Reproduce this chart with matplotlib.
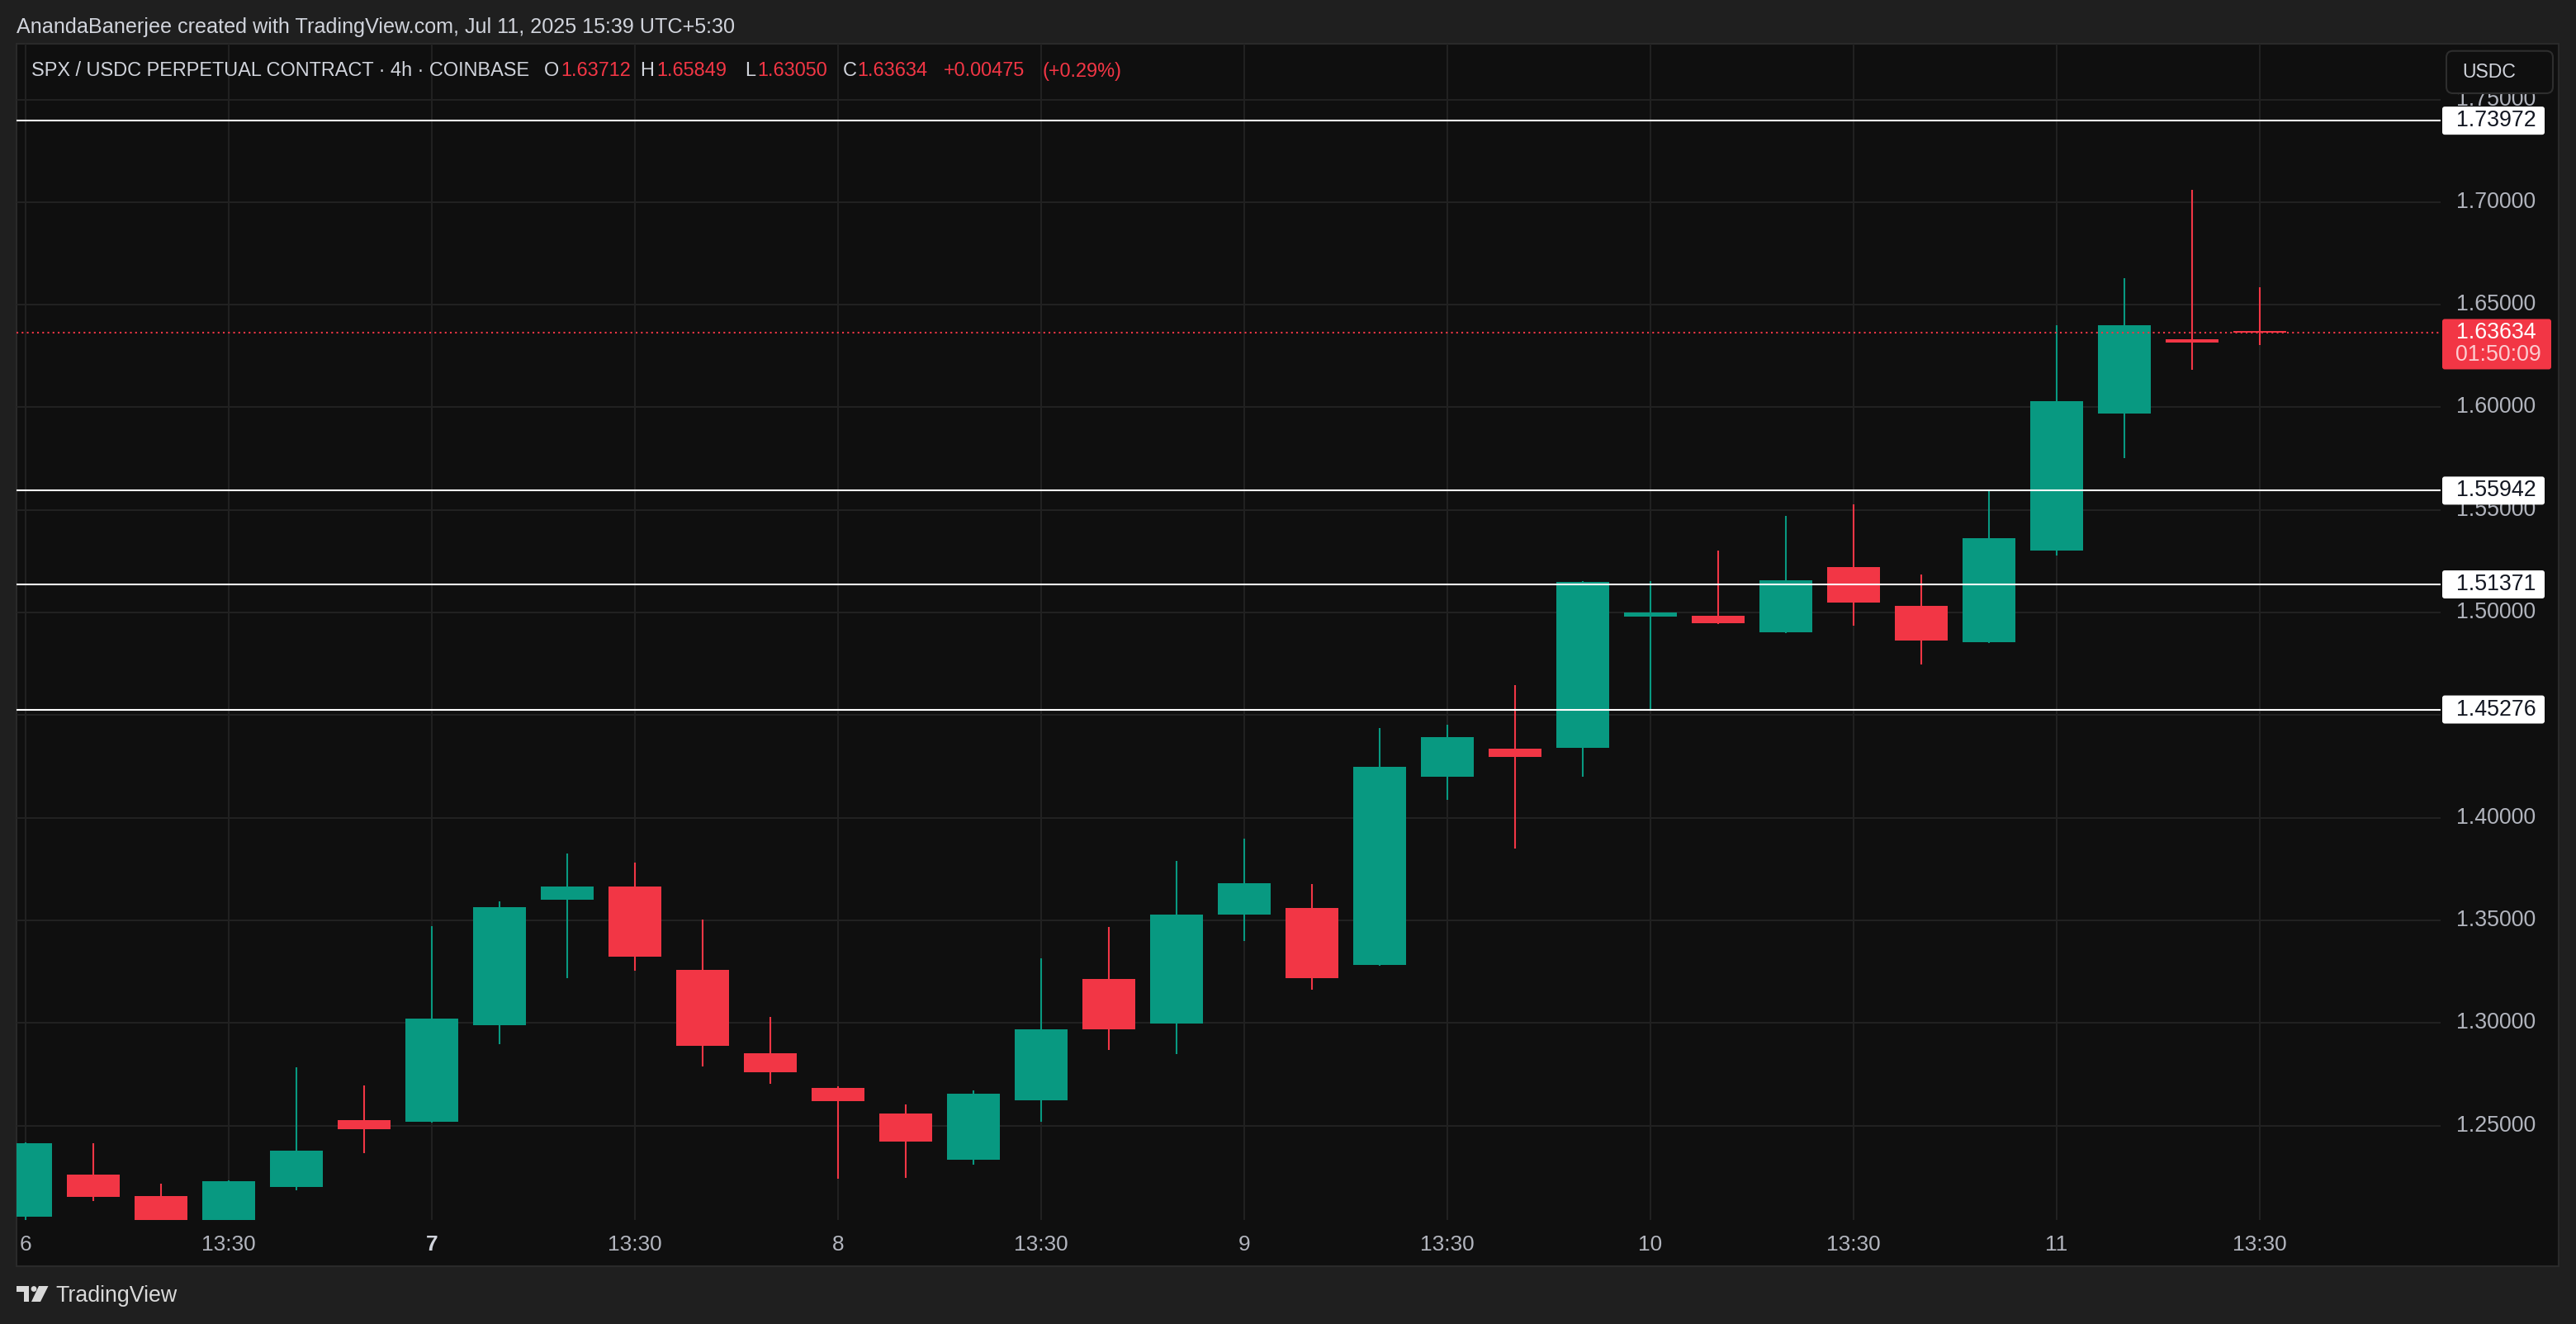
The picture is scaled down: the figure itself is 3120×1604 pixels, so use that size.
import matplotlib
matplotlib.use("Agg")
import matplotlib.pyplot as plt
from matplotlib.patches import Rectangle, FancyBboxPatch, Circle, Polygon
from matplotlib import transforms
import numpy as np

# ---------------- data ----------------
opens = [1.2056, 1.2261, 1.2156, 1.2040, 1.2201, 1.2527, 1.2519, 1.2989, 1.3601, 1.3665,
         1.3259, 1.2852, 1.2683, 1.2559, 1.2335, 1.2624, 1.3214, 1.2997, 1.3529, 1.3560,
         1.3284, 1.4201, 1.4337, 1.4341, 1.4981, 1.4984, 1.4904, 1.5222, 1.5033, 1.4856,
         1.5303, 1.5971, 1.6332, 1.63712]
highs = [1.2416, 1.2414, 1.2217, 1.2233, 1.2784, 1.2695, 1.3472, 1.3592, 1.3826, 1.3782,
         1.3504, 1.3029, 1.2690, 1.2603, 1.2671, 1.3315, 1.3468, 1.3790, 1.3898, 1.3677,
         1.4437, 1.4453, 1.4646, 1.5155, 1.5153, 1.5302, 1.5471, 1.5527, 1.5185, 1.5600,
         1.6400, 1.6630, 1.7060, 1.65849]
lows = [1.2041, 1.2132, 1.2030, 1.2030, 1.2186, 1.2366, 1.2515, 1.2897, 1.3218, 1.3255,
        1.2788, 1.2704, 1.2242, 1.2246, 1.2310, 1.2519, 1.2868, 1.2848, 1.3401, 1.3163,
        1.3280, 1.4089, 1.3851, 1.4201, 1.4523, 1.4945, 1.4900, 1.4936, 1.4747, 1.4852,
        1.5279, 1.5754, 1.6184, 1.63050]
closes = [1.2414, 1.2152, 1.2035, 1.2229, 1.2378, 1.2482, 1.3021, 1.3564, 1.3665, 1.3323,
          1.2889, 1.2760, 1.2620, 1.2423, 1.2655, 1.2971, 1.2969, 1.3528, 1.3681, 1.3220,
          1.4248, 1.4393, 1.4296, 1.5150, 1.5000, 1.4949, 1.5157, 1.5049, 1.4864, 1.5362,
          1.6030, 1.6400, 1.63159, 1.63634]

time_labels = ["6", "13:30", "7", "13:30", "8", "13:30", "9", "13:30", "10", "13:30", "11", "13:30"]
time_label_bars = [0, 3, 6, 9, 12, 15, 18, 21, 24, 27, 30, 33]
bold_time_labels = ["7"]
price_ticks = [1.25, 1.30, 1.35, 1.40, 1.45, 1.50, 1.55, 1.60, 1.65, 1.70, 1.75]
key_levels = [1.73972, 1.55942, 1.51371, 1.45276]
countdown = "01:50:09"
header_text = "AnandaBanerjee created with TradingView.com, Jul 11, 2025 15:39 UTC+5:30"
symbol_text = "SPX / USDC PERPETUAL CONTRACT \u00b7 4h \u00b7 COINBASE"
currency = "USDC"

# ---------------- style ----------------
plt.rcParams["font.family"] = ["Liberation Sans", "DejaVu Sans"]
GREEN = "#089981"
RED = "#F23645"
GRID = "#222222"
TXT = "#b2b5be"
LIGHT = "#d1d4dc"

W, H = 3120, 1604
fig = plt.figure(figsize=(W / 100, H / 100), dpi=100, facecolor="#1f1f1f")
renderer = fig.canvas.get_renderer()


def fx(px):
    return px / W


def fy(py):
    return 1 - py / H


PL, PR, PT, PB = 20, 2956, 53, 1478
PANE_R, PANE_B = 3099, 1534
X0, DX = 31.0, 82.0                 # pixel of bar 0, bar spacing
Y_REF_PX, Y_REF_P, PX_PER_UNIT = 493.5, 1.60, 2486.0

# pane background
fig.add_artist(Rectangle((fx(PL), fy(PANE_B)), fx(PANE_R) - fx(PL), fy(PT) - fy(PANE_B),
                         transform=fig.transFigure, facecolor="#0f0f0f",
                         edgecolor="#2a2a2a", lw=1.5, zorder=-1))

ax = fig.add_axes([fx(PL), fy(PB), fx(PR) - fx(PL), fy(PT) - fy(PB)])
ax.set_facecolor("none")
for s in ax.spines.values():
    s.set_visible(False)
ax.set_xticks([])
ax.set_yticks([])
ax.set_xlim((PL - X0) / DX, (PR - X0) / DX)
ybot = Y_REF_P - (PB - Y_REF_PX) / PX_PER_UNIT
ytop = Y_REF_P + (Y_REF_PX - PT) / PX_PER_UNIT
ax.set_ylim(ybot, ytop)
ppx = (ytop - ybot) / (PB - PT)   # price per pixel

# grid
for p in price_ticks:
    ax.axhline(p, color=GRID, lw=1.4, zorder=0)
for i in time_label_bars:
    ax.axvline(i, color=GRID, lw=1.4, zorder=0)

# candles
o = np.array(opens); h = np.array(highs); l = np.array(lows); c = np.array(closes)
idx = np.arange(len(o))
cols = np.where(c >= o, GREEN, RED)
ax.vlines(idx, l, h, colors=cols, lw=1.5, zorder=2)
body = np.maximum(np.abs(c - o), 2 * ppx)
ax.bar(idx, body, bottom=np.minimum(o, c), width=0.78, color=cols, lw=0, zorder=3)

# key levels and last price line
for lv in key_levels:
    ax.axhline(lv, color="white", lw=1.5, zorder=4)
last_price = closes[-1]
ax.axhline(last_price, color=RED, lw=1.5, ls=(0, (1, 2)), zorder=4)

# text size helper
def fit(t, target_w):
    w = t.get_window_extent(renderer).width
    t.set_fontsize(t.get_fontsize() * target_w / w)
    return t.get_fontsize()

probe = fig.text(0, 0, "1.70000", fontsize=18)
price_fs = fit(probe, 97)
probe.remove()
probe = fig.text(0, 0, "13:30", fontsize=18)
time_fs = fit(probe, 66)
probe.remove()

# price tick labels (a label fully hidden under a level tag is not shown)
ytr = transforms.blended_transform_factory(ax.transAxes, ax.transData)
for p in price_ticks:
    if min(abs(p - lv) for lv in key_levels) / ppx < 12:
        continue
    ax.text((2975 - PL) / (PR - PL), p, f"{p:.5f}", transform=ytr, ha="left",
            va="center", color=TXT, fontsize=price_fs, clip_on=False)

# time labels
xtr = transforms.blended_transform_factory(ax.transData, ax.transAxes)
for i, lab in zip(time_label_bars, time_labels):
    ax.text(i, (PB - 1508) / (PB - PT), lab, transform=xtr, ha="center", va="center",
            color=TXT if lab not in bold_time_labels else LIGHT, fontsize=time_fs,
            fontweight="bold" if lab in bold_time_labels else "normal", clip_on=False)

# price-scale overlay for labels
ax2 = fig.add_axes([fx(PR), fy(PB), fx(PANE_R) - fx(PR), fy(PT) - fy(PB)])
ax2.set_xlim(0, PANE_R - PR)
ax2.set_ylim(ybot, ytop)
ax2.axis("off")
ax2.patch.set_visible(False)
for lv in key_levels:
    ax2.add_patch(FancyBboxPatch((2, lv - 17 * ppx), 124, 34 * ppx,
                                 boxstyle="round,pad=0,rounding_size=3",
                                 mutation_aspect=ppx, fc="white", ec="none", clip_on=False))
    ax2.text(19, lv, f"{lv:.5f}", ha="left", va="center", color="#131722",
             fontsize=price_fs, clip_on=False)
ax2.add_patch(FancyBboxPatch((2, last_price - 44.3 * ppx), 132, 61 * ppx,
                             boxstyle="round,pad=0,rounding_size=3",
                             mutation_aspect=ppx, fc=RED, ec="none", clip_on=False))
ax2.text(19, last_price, f"{last_price:.5f}", ha="left", va="center", color="white",
         fontsize=price_fs, clip_on=False)
ax2.text(18, last_price - 27 * ppx, countdown, ha="left", va="center", color="#fccdd1",
         fontsize=price_fs, clip_on=False)

# UI overlay (header, legend, footer, currency button)
ui = fig.add_axes([0, 0, 1, 1])
ui.set_xlim(0, W)
ui.set_ylim(H, 0)
ui.axis("off")
ui.patch.set_visible(False)

t = ui.text(19.6, 33, header_text, ha="left", va="center", color=LIGHT, fontsize=15)
fit(t, 871)

t = ui.text(37.5, 86, symbol_text, ha="left", va="center", color=LIGHT, fontsize=16)
leg_fs = fit(t, 605)
chg = closes[-1] - closes[-2]
pct = chg / closes[-2] * 100
segments = [
    (659, "O", LIGHT), (679, f"{opens[-1]:.5f}", RED),
    (775, "H", LIGHT), (795, f"{highs[-1]:.5f}", RED),
    (902, "L", LIGHT), (917, f"{lows[-1]:.5f}", RED),
    (1020.5, "C", LIGHT), (1038, f"{closes[-1]:.5f}", RED),
    (1143, f"{chg:+.5f}", RED), (1262, f"({pct:+.2f}%)", RED),
]
for x, s, col in segments:
    ui.text(x, 86, s, ha="left", va="center", color=col, fontsize=leg_fs)

# currency button
ui.add_patch(FancyBboxPatch((2963, 61.7), 129, 51.3, boxstyle="round,pad=0,rounding_size=8",
                            fc="#0f0f0f", ec="#2e2e2e", lw=1.5))
t = ui.text(3015, 88, currency, ha="center", va="center", color=LIGHT, fontsize=17)
fit(t, 65)

# footer logo + text
LOGO = "#d9d9d9"
ui.add_patch(Rectangle((20, 1558), 15, 6.5, fc=LOGO, ec="none"))
ui.add_patch(Rectangle((28.5, 1558), 6.5, 19, fc=LOGO, ec="none"))
ui.add_patch(Circle((41, 1561.5), 3.4, fc=LOGO, ec="none"))
ui.add_patch(Polygon([(47, 1558), (58.5, 1558), (49, 1577), (38, 1577)], closed=True,
                     fc=LOGO, ec="none"))
t = ui.text(67, 1570, "TradingView", ha="left", va="center", color=LOGO, fontsize=16)
fit(t, 148)

fig.savefig("out.png", dpi=100, facecolor=fig.get_facecolor())
